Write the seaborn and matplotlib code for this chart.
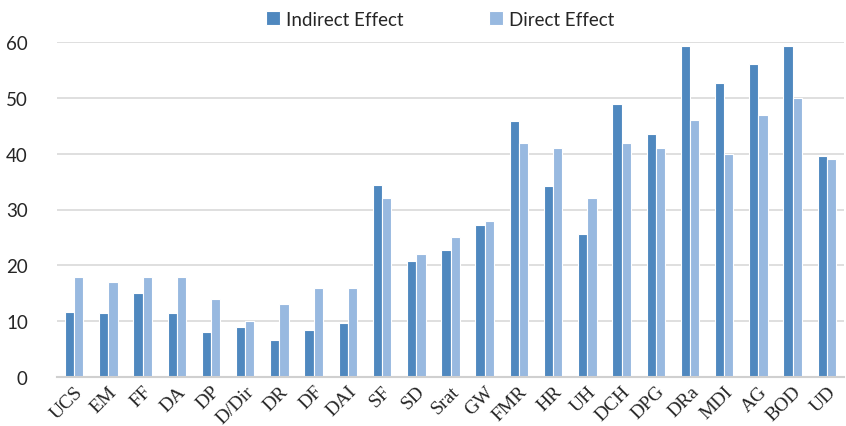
import pandas as pd
import matplotlib
matplotlib.use('Agg')
import matplotlib.pyplot as plt
import seaborn as sns

categories = ['UCS', 'EM', 'FF', 'DA', 'DP', 'D/Dir', 'DR', 'DF', 'DAI', 'SF', 'SD',
              'Srat', 'GW', 'FMR', 'HR', 'UH', 'DCH', 'DPG', 'DRa', 'MDI', 'AG', 'BOD', 'UD']
indirect = [11.7, 11.5, 15.0, 11.4, 8.1, 8.9, 6.6, 8.5, 9.7, 34.3, 20.7,
            22.8, 27.2, 45.9, 34.2, 25.7, 48.9, 43.6, 59.2, 52.7, 56.1, 59.3, 39.6]
direct = [18, 17, 18, 18, 14, 10, 13, 16, 16, 32, 22,
          25, 28, 42, 41, 32, 42, 41, 46, 40, 47, 50, 39]
series = ['Indirect Effect', 'Direct Effect']

df = pd.DataFrame({'cat': categories * 2,
                   'effect': [series[0]] * len(categories) + [series[1]] * len(categories),
                   'value': indirect + direct})

sns.set_style('white')
plt.rcParams['font.family'] = ['Lato', 'DejaVu Sans']

fig = plt.figure(figsize=(8.46, 4.27), dpi=100)
ax = fig.add_axes([57 / 846, 49 / 427, 787 / 846, 335 / 427])

sns.barplot(data=df, x='cat', y='value', hue='effect', order=categories,
            palette=['#4F88BF', '#98B9E0'], saturation=1, width=0.54,
            edgecolor='white', linewidth=0.8, ax=ax)

ax.set_ylim(0, 60)
ax.set_yticks(range(0, 61, 10))
ax.yaxis.grid(True, color='#D9D9D9', linewidth=1.2)
ax.set_axisbelow(True)
for s in ['top', 'right', 'left']:
    ax.spines[s].set_visible(False)
ax.spines['bottom'].set_color('#D0D0D0')
ax.spines['bottom'].set_linewidth(1.5)
ax.set_xlabel('')
ax.set_ylabel('')
ax.tick_params(axis='y', length=0, pad=21, labelsize=13.5)
ax.tick_params(axis='x', length=0, pad=4)
ax.set_xticks(range(len(categories)))
ax.set_xticklabels(categories, rotation=45, ha='right', rotation_mode='anchor',
                   family='Liberation Serif', fontsize=14)

ax.legend_.remove()
handles, labels = ax.get_legend_handles_labels()
fig.legend(handles, labels, loc='center', bbox_to_anchor=(440 / 846, 1 - 20 / 427),
           ncol=2, frameon=False, fontsize=13.5, handlelength=0.75, handleheight=0.75,
           handletextpad=0.3, columnspacing=4.6)

plt.savefig('out.png', dpi=100)
